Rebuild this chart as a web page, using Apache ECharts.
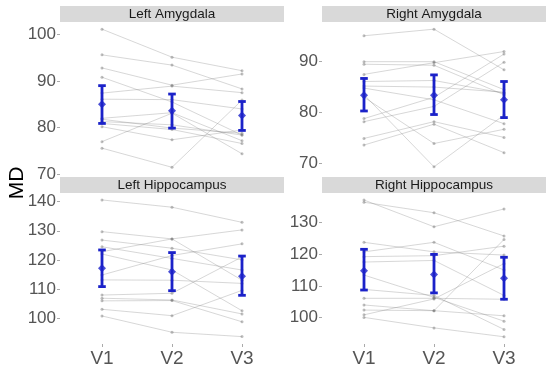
<!DOCTYPE html>
<html><head><meta charset="utf-8">
<script src="https://cdn.jsdelivr.net/npm/echarts@6/dist/echarts.min.js"></script>
<style>html,body{margin:0;padding:0;background:#fff}#c{width:554px;height:371px}</style>
</head><body><div id="c"></div><script>
// ---- data ----
const categories = ['V1', 'V2', 'V3'];
const panelTitles = ['Left Amygdala', 'Right Amygdala', 'Left Hippocampus', 'Right Hippocampus'];
const yTitle = 'MD';

// per-subject values [V1, V2, V3]
const leftAmygdala = [
  [101.1, 95.1, 92.2], [95.6, 93.4, 88.3], [92.8, 89.1, 91.5], [90.8, 85.5, 78.4],
  [87.4, 88.9, 87.5], [86.1, 86.0, 84.0], [82.0, 83.2, 77.2], [81.8, 79.9, 78.8],
  [81.3, 80.6, 78.4], [80.9, 79.6, 76.6], [80.2, 77.4, 79.5], [77.0, 83.1, 74.4],
  [75.6, 71.5, 85.9]
];
const leftAmygdalaMean = [85.0, 83.6, 82.6];
const leftAmygdalaLow = [80.9, 79.9, 79.4];
const leftAmygdalaHigh = [89.0, 87.2, 85.6];

const rightAmygdala = [
  [95.1, 96.4, 88.4], [90.0, 90.0, 84.5], [89.5, 89.3, 83.5], [87.5, 89.8, 92.0],
  [86.1, 86.3, 83.8], [85.2, 85.0, 84.0], [84.8, 82.5, 77.8], [83.5, 69.3, 79.5],
  [83.0, 73.9, 76.7], [78.8, 83.0, 91.5], [78.2, 81.2, 89.9], [74.9, 78.2, 75.1],
  [73.6, 77.7, 72.1]
];
const rightAmygdalaMean = [83.4, 83.4, 82.5];
const rightAmygdalaLow = [80.3, 79.6, 79.0];
const rightAmygdalaHigh = [86.7, 87.4, 86.1];

const leftHippocampus = [
  [140.6, 138.1, 132.9], [129.7, 127.2, 113.0], [126.8, 124.0, 120.0], [122.8, 127.2, 130.3],
  [122.0, 116.5, 102.5], [114.8, 121.5, 125.5], [113.1, 113.0, 111.9], [107.9, 108.5, 121.0],
  [106.8, 106.2, 101.4], [105.9, 106.0, 98.7], [103.0, 100.8, 109.5], [100.7, 95.1, 93.6],
  [124.5, 120.5, 116.5]
];
const leftHippocampusMean = [117.1, 115.9, 114.4];
const leftHippocampusLow = [110.8, 109.4, 107.8];
const leftHippocampusHigh = [123.4, 122.5, 121.3];

const rightHippocampus = [
  [137.0, 128.6, 134.2], [136.3, 133.0, 125.7], [123.7, 120.7, 119.7], [120.7, 123.7, 115.0],
  [119.2, 119.5, 122.5], [117.5, 118.0, 107.0], [113.4, 106.4, 98.9], [108.9, 107.0, 96.3],
  [106.1, 106.1, 105.8], [104.0, 102.2, 124.6], [102.4, 102.2, 100.6], [100.9, 105.9, 117.0],
  [100.1, 96.8, 94.0]
];
const rightHippocampusMean = [114.8, 113.6, 112.4];
const rightHippocampusLow = [108.7, 107.8, 105.8];
const rightHippocampusHigh = [121.5, 119.9, 119.0];

const leftAmygdalaTicks = [70, 80, 90, 100];
const rightAmygdalaTicks = [70, 80, 90];
const leftHippocampusTicks = [100, 110, 120, 130, 140];
const rightHippocampusTicks = [100, 110, 120, 130];

// ---- layout ----
const panels = [
  { subj: leftAmygdala, mean: leftAmygdalaMean, low: leftAmygdalaLow, high: leftAmygdalaHigh, ticks: leftAmygdalaTicks,
    left: 60, top: 22, width: 224, height: 153, ymin: 69.85, ymax: 102.64, xlabels: false },
  { subj: rightAmygdala, mean: rightAmygdalaMean, low: rightAmygdalaLow, high: rightAmygdalaHigh, ticks: rightAmygdalaTicks,
    left: 322, top: 22, width: 224, height: 153, ymin: 67.70, ymax: 97.81, xlabels: false },
  { subj: leftHippocampus, mean: leftHippocampusMean, low: leftHippocampusLow, high: leftHippocampusHigh, ticks: leftHippocampusTicks,
    left: 60, top: 193, width: 224, height: 151, ymin: 91.06, ymax: 142.99, xlabels: true },
  { subj: rightHippocampus, mean: rightHippocampusMean, low: rightHippocampusLow, high: rightHippocampusHigh, ticks: rightHippocampusTicks,
    left: 322, top: 193, width: 224, height: 151, ymin: 91.73, ymax: 139.21, xlabels: true }
];

const FONT = '"Liberation Sans", Arial, sans-serif';
const BLUE = '#1b22c9';
const xVals = categories.map((c, i) => i + 1);

const grid = [], xAxis = [], yAxis = [], series = [], graphic = [];
panels.forEach((p, k) => {
  grid.push({ left: p.left, top: p.top, width: p.width, height: p.height, containLabel: false });
  xAxis.push({
    type: 'value', gridIndex: k, min: 0.4, max: 3.6,
    axisLine: { show: false }, splitLine: { show: false },
    axisTick: { show: p.xlabels, customValues: xVals, length: 3, lineStyle: { color: '#aaa', width: 1 } },
    axisLabel: { show: p.xlabels, customValues: xVals, formatter: v => categories[Math.round(v) - 1],
      fontSize: 19, color: '#555', fontFamily: FONT, margin: 5 }
  });
  yAxis.push({
    type: 'value', gridIndex: k, min: p.ymin, max: p.ymax,
    axisLine: { show: false }, splitLine: { show: false },
    axisTick: { show: true, customValues: p.ticks, length: 3, lineStyle: { color: '#aaa', width: 1 } },
    axisLabel: { customValues: p.ticks, fontSize: 17, color: '#555', fontFamily: FONT, margin: 4 }
  });
  p.subj.forEach(s => {
    series.push({
      type: 'line', xAxisIndex: k, yAxisIndex: k, silent: true, animation: false, z: 1,
      data: s.map((v, i) => [xVals[i], v]),
      symbol: 'circle', symbolSize: 3,
      lineStyle: { color: 'rgba(130,130,130,0.32)', width: 1 },
      itemStyle: { color: 'rgba(110,110,110,0.45)' }
    });
  });
  series.push({
    type: 'custom', xAxisIndex: k, yAxisIndex: k, animation: false, silent: true, z: 5,
    data: categories.map((c, i) => [xVals[i], p.mean[i], p.low[i], p.high[i]]),
    encode: { x: 0, y: [1, 2, 3] },
    renderItem: function (params, api) {
      const x = api.value(0);
      const top = api.coord([x, api.value(3)]);
      const bot = api.coord([x, api.value(2)]);
      const hw = 3.8;
      const style = { stroke: BLUE, lineWidth: 2.8, fill: null };
      return { type: 'group', children: [
        { type: 'line', shape: { x1: top[0], y1: top[1], x2: bot[0], y2: bot[1] }, style: style },
        { type: 'line', shape: { x1: top[0] - hw, y1: top[1], x2: top[0] + hw, y2: top[1] }, style: style },
        { type: 'line', shape: { x1: bot[0] - hw, y1: bot[1], x2: bot[0] + hw, y2: bot[1] }, style: style }
      ] };
    }
  });
  series.push({
    type: 'scatter', xAxisIndex: k, yAxisIndex: k, animation: false, silent: true, z: 6,
    data: categories.map((c, i) => [xVals[i], p.mean[i]]),
    symbol: 'diamond', symbolSize: 8, itemStyle: { color: BLUE }
  });
  // facet strip
  graphic.push({ type: 'rect', shape: { x: p.left, y: p.top - 16, width: p.width, height: 16 },
    style: { fill: '#d9d9d9' }, silent: true });
  graphic.push({ type: 'text', x: p.left + p.width / 2, y: p.top - 8,
    style: { text: panelTitles[k], font: '13.5px ' + FONT, fill: '#1a1a1a', textAlign: 'center', textVerticalAlign: 'middle' }, silent: true });
});
graphic.push({ type: 'text', x: 17, y: 183, rotation: Math.PI / 2,
  style: { text: yTitle, font: '21px ' + FONT, fill: '#000', textAlign: 'center', textVerticalAlign: 'middle' }, silent: true });

const chart = echarts.init(document.getElementById('c'), null, { renderer: 'canvas' });
chart.setOption({ backgroundColor: '#fff', animation: false, grid, xAxis, yAxis, series, graphic });
</script></body></html>
